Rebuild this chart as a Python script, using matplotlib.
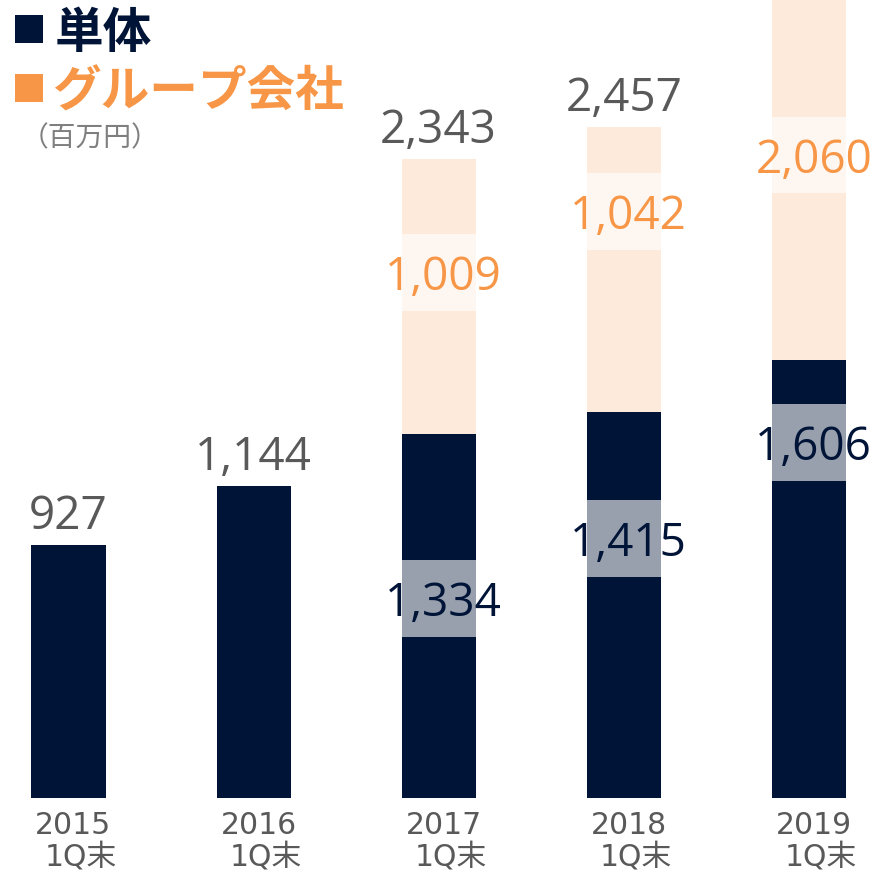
import matplotlib
matplotlib.use("Agg")
import matplotlib.pyplot as plt
from matplotlib.patches import Rectangle

# ---- data ----
years = ["2015", "2016", "2017", "2018", "2019"]
period = ["1Q末", "1Q末", "1Q末", "1Q末", "1Q末"]
single = [927, 1144, 1334, 1415, 1606]      # 単体
group = [0, 0, 1009, 1042, 2060]            # グループ会社
legend_labels = ["単体", "グループ会社"]
unit_label = "（百万円）"

# ---- layout (label positions in value units) ----
single_label_y = [None, None, 731, 951, 1304]
group_label_y = [None, None, 1926, 2149, 2356]
box_h = 282

NAVY = "#001437"
PEACH = "#FDEADA"
ORANGE = "#F79646"
GRAY = "#595959"

W, H = 877, 873
fig = plt.figure(figsize=(W / 100, H / 100), dpi=100)
ax = fig.add_axes([0, (H - 798) / H, 1, 798 / H])
ax.set_xlim(-0.370, 4.368)
ax.set_ylim(0, 2924)
ax.axis("off")

x = list(range(len(years)))
bw = 0.40
ax.bar(x, single, width=bw, color=NAVY, zorder=2)
ax.bar(x, group, width=bw, bottom=single, color=PEACH, zorder=2)

numfont = dict(family=["Open Sans", "DejaVu Sans"], fontsize=33)

totals = [s + g for s, g in zip(single, group)]
for i, t in enumerate(totals):
    if t < ax.get_ylim()[1] - 200:
        ax.annotate(f"{t:,}", xy=(i, t), xytext=(0, 11.5), textcoords="offset points",
                    ha="center", va="baseline", color=GRAY, **numfont)

for i in x:
    if single_label_y[i] is not None:
        yc = single_label_y[i]
        ax.add_patch(Rectangle((i - bw / 2, yc - box_h / 2), bw, box_h,
                               facecolor="white", alpha=0.6, edgecolor="none", zorder=3))
        ax.annotate(f"{single[i]:,}", xy=(i, yc), xytext=(3, 0), textcoords="offset points",
                    ha="center", va="center_baseline", color=NAVY, zorder=4, **numfont)
    if group_label_y[i] is not None:
        yc = group_label_y[i]
        ax.add_patch(Rectangle((i - bw / 2, yc - box_h / 2), bw, box_h,
                               facecolor="white", alpha=0.6, edgecolor="none", zorder=3))
        dx = 3 if str(group[i]).startswith("1") else 4
        ax.annotate(f"{group[i]:,}", xy=(i, yc), xytext=(dx, 0), textcoords="offset points",
                    ha="center", va="center_baseline", color=ORANGE, zorder=4, **numfont)

tickfont = dict(family=["DejaVu Sans", "Noto Sans CJK JP"], fontsize=21.5, color=GRAY)
for i in x:
    ax.annotate(years[i], xy=(i, 0), xytext=(3.6, -25.9), textcoords="offset points",
                ha="center", va="baseline", annotation_clip=False, **tickfont)
    ax.annotate(period[i], xy=(i, 0), xytext=(8.6, -48.9), textcoords="offset points",
                ha="center", va="baseline", annotation_clip=False, **tickfont)

# ---- legend ----
def px(xp, yp):
    return xp / W, (H - yp) / H

fig.add_artist(Rectangle(px(15, 43), 28 / W, 28 / H, transform=fig.transFigure,
                         facecolor=NAVY, edgecolor="none"))
fig.add_artist(Rectangle(px(15, 102), 28 / W, 28 / H, transform=fig.transFigure,
                         facecolor=ORANGE, edgecolor="none"))
jp = ["Noto Sans CJK JP", "DejaVu Sans"]
fig.text(*px(55, 33), legend_labels[0], family=jp, fontsize=35, fontweight="bold",
         color=NAVY, ha="left", va="center")
fig.text(*px(52, 92), legend_labels[1], family=jp, fontsize=35, fontweight="bold",
         color=ORANGE, ha="left", va="center")
fig.text(*px(21, 138), unit_label, family=jp, fontsize=20, color="#7F7F7F",
         ha="left", va="center")

fig.savefig("out.png", dpi=100)
